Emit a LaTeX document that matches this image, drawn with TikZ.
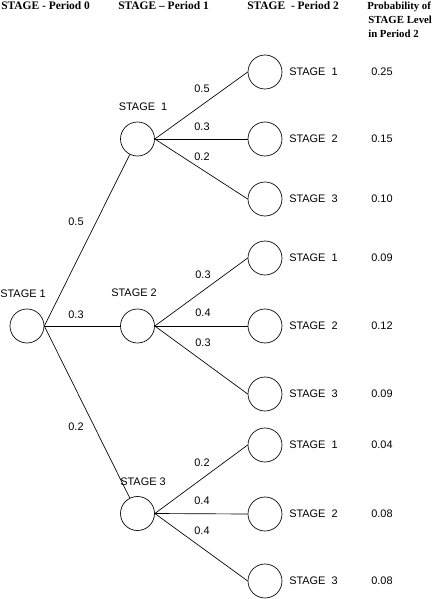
\documentclass[tikz,border=0pt]{standalone}
\usepackage{fontspec}
\setmainfont{Liberation Serif}
\newfontfamily\arialf{Liberation Sans}
\begin{document}
\begin{tikzpicture}[x=0.75pt,y=-0.75pt,
  state/.style={circle,draw,line width=0.5pt,minimum size=25.5pt,inner sep=0pt},
  lbl/.style={font=\arialf\fontsize{8.2}{10}\selectfont,inner sep=0pt},
  hdr/.style={font=\bfseries\fontsize{8.6}{10}\selectfont,inner sep=0pt,anchor=base west},
  hdrp/.style={font=\bfseries\fontsize{8.1}{10}\selectfont,inner sep=0pt,anchor=base west},
  edge/.style={line width=0.5pt}]
\useasboundingbox (0,0) rectangle (435,599);
% headers
\node[hdr] (h0) at (1,9.5) {STAGE - Period 0};
\node[hdr] (h1) at (118,9.5) {STAGE -- Period 1};
\node[hdr] (h2) at (247,9.5) {STAGE \ - Period 2};
\node[hdrp] (h3a) at (367,9.5) {Probability of};
\node[hdrp] (h3b) at (368,23.5) {STAGE Level};
\node[hdrp] (h3c) at (368,37.5) {in Period 2};
% root
\node[state] (r) at (27,326) {};
\node[lbl] (rl) at (23,294) {STAGE 1};
% period 1
\node[state] (a) at (137.5,139) {};
\node[state] (b) at (137.5,326) {};
\node[state] (c) at (137.5,513.5) {};
\node[lbl] (al) at (143,107) {STAGE\ \ 1};
\node[lbl] (bl) at (134,293) {STAGE 2};
\node[lbl] (cl) at (143,482) {STAGE 3};
% period 2
\foreach \n/\y/\s/\p in {a1/72/1/0.25, a2/139/2/0.15, a3/199/3/0.10,
                         b1/258/1/0.09, b2/326/2/0.12, b3/394/3/0.09,
                         c1/445/1/0.04, c2/514/2/0.08, c3/581/3/0.08}{
  \node[state] (\n) at (265,\y) {};
  \node[lbl,anchor=west] (\n l) at (289,\y) {STAGE\ \ \s};
  \node[lbl] (\n p) at (382,\y) {\p};
}
% root edges
\draw[edge] (r.east) -- (a);
\draw[edge] (r.east) -- (b);
\draw[edge] (r.east) -- (c);
\node[lbl] (e1) at (76,222) {0.5};
\node[lbl] (e2) at (76,315) {0.3};
\node[lbl] (e3) at (76,427) {0.2};
% period 1 -> period 2 edges
\foreach \m in {a,b,c}{
  \foreach \k in {1,2,3}{
    \draw[edge] (\m.east) -- (\m\k.west);
  }
}
\node[lbl] (ea1) at (202,89) {0.5};
\node[lbl] (ea2) at (202,127) {0.3};
\node[lbl] (ea3) at (202,157) {0.2};
\node[lbl] (eb1) at (203,275) {0.3};
\node[lbl] (eb2) at (203,313) {0.4};
\node[lbl] (eb3) at (203,343) {0.3};
\node[lbl] (ec1) at (202,463) {0.2};
\node[lbl] (ec2) at (202,501) {0.4};
\node[lbl] (ec3) at (202,531) {0.4};
\end{tikzpicture}
\end{document}
